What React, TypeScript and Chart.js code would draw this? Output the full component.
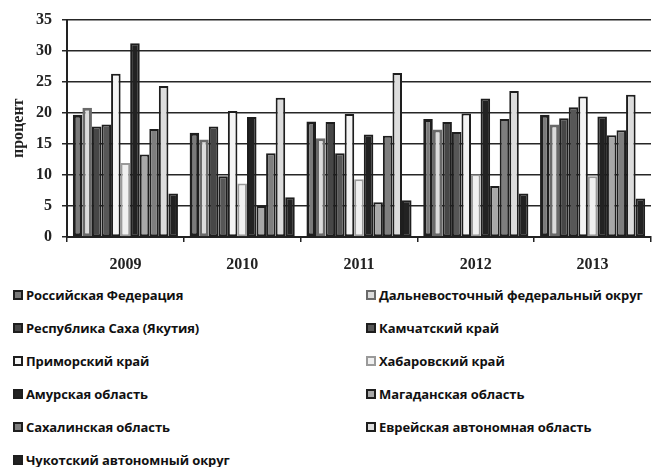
import React, { useEffect, useRef } from "react";
import { Chart, registerables } from "chart.js";

Chart.register(...registerables);

const years = ["2009", "2010", "2011", "2012", "2013"];
const seriesNames = [
  "Российская Федерация",
  "Дальневосточный федеральный округ",
  "Республика Саха (Якутия)",
  "Камчатский край",
  "Приморский край",
  "Хабаровский край",
  "Амурская область",
  "Магаданская область",
  "Сахалинская область",
  "Еврейская автономная область",
  "Чукотский автономный округ",
];
const russia = [19.7, 16.8, 18.6, 19.0, 19.7];
const farEast = [20.8, 15.7, 15.9, 17.3, 18.1];
const sakha = [17.8, 17.8, 18.5, 18.5, 19.1];
const kamchatka = [18.1, 9.8, 13.5, 16.9, 20.9];
const primorsky = [26.3, 20.3, 19.8, 19.9, 22.6];
const khabarovsk = [11.9, 8.6, 9.3, 10.1, 9.8];
const amur = [31.2, 19.3, 16.5, 22.3, 19.4];
const magadan = [13.3, 5.0, 5.6, 8.2, 16.4];
const sakhalin = [17.4, 13.5, 16.3, 19.0, 17.2];
const jewish = [24.3, 22.4, 26.4, 23.5, 22.9];
const chukotka = [7.0, 6.4, 5.9, 7.0, 6.2];
const yTicks = [0, 5, 10, 15, 20, 25, 30, 35];

const allValues = [russia, farEast, sakha, kamchatka, primorsky, khabarovsk, amur, magadan, sakhalin, jewish, chukotka];
const fills = ["#7a7a7a", "#dcdcdc", "#474747", "#575757", "#f4f4f4", "#f0f0f0", "#222222", "#a8a8a8", "#7e7e7e", "#dcdcdc", "#222222"];
const borders = ["#1e1e1e", "#6a6a6a", "#1e1e1e", "#1e1e1e", "#1e1e1e", "#9a9a9a", "#1e1e1e", "#1e1e1e", "#1e1e1e", "#1e1e1e", "#1e1e1e"];
const borderWidths = [3, 3, 2, 2, 2, 2, 2, 2, 2, 2, 2];

export default function App() {
  const ref = useRef<HTMLCanvasElement>(null);
  useEffect(() => {
    if (!ref.current) return;
    const chart = new Chart(ref.current, {
      type: "bar",
      data: {
        labels: years,
        datasets: allValues.map((vals, i) => ({
          label: seriesNames[i],
          data: vals,
          backgroundColor: fills[i],
          borderColor: borders[i],
          borderWidth: borderWidths[i],
          borderSkipped: false,
          categoryPercentage: 0.9,
          barPercentage: 1.0,
        })),
      },
      options: {
        animation: false,
        responsive: false,
        maintainAspectRatio: false,
        layout: { padding: { top: 10, right: 1, left: 0, bottom: 0 } },
        plugins: { legend: { display: false }, tooltip: { enabled: false } },
        scales: {
          x: {
            offset: true,
            grid: {
              offset: true,
              drawOnChartArea: false,
              drawTicks: true,
              tickLength: 5,
              color: "#222",
              lineWidth: 1.5,
            },
            border: { display: true, color: "#222", width: 2 },
            ticks: {
              color: "#222",
              padding: 13,
              font: { family: "'Liberation Serif', 'Times New Roman', serif", size: 16, weight: "bold" },
            },
            afterFit: (s: any) => {
              s.height = 43;
            },
          },
          y: {
            min: 0,
            max: 35,
            afterBuildTicks: (s: any) => {
              s.ticks = yTicks.map((v) => ({ value: v }));
            },
            grid: {
              color: "#262626",
              lineWidth: 1.5,
              drawTicks: true,
              tickLength: 5,
            },
            border: { display: true, color: "#222", width: 2 },
            ticks: {
              color: "#222",
              padding: 10,
              font: { family: "'Liberation Serif', 'Times New Roman', serif", size: 16, weight: "bold" },
            },
            title: {
              display: true,
              text: "процент",
              color: "#222",
              padding: { top: 9, bottom: 0 },
              font: { family: "'Liberation Serif', 'Times New Roman', serif", size: 16, weight: "bold" },
            },
            afterFit: (s: any) => {
              s.width = 67;
            },
          },
        },
      },
    });
    return () => chart.destroy();
  }, []);

  const legendFont = "'Open Sans', 'DejaVu Sans', sans-serif";
  return (
    <div style={{ position: "absolute", left: 0, top: 0, width: 652, height: 467, background: "#fff" }}>
      <canvas ref={ref} width={652} height={280} style={{ position: "absolute", left: 0, top: 0, width: 652, height: 280 }} />
      {seriesNames.map((name, i) => {
        const col = i % 2;
        const row = Math.floor(i / 2);
        const cy = 295 + row * 33;
        const x0 = col === 0 ? 13 : 366;
        return (
          <div
            key={name}
            style={{
              position: "absolute",
              left: x0,
              top: cy - 10,
              height: 20,
              display: "flex",
              alignItems: "center",
              whiteSpace: "nowrap",
              fontFamily: legendFont,
              fontWeight: 700,
              fontSize: 13,
              letterSpacing: -0.1,
              color: "#111",
            }}
          >
            <span
              style={{
                display: "inline-block",
                width: 10,
                height: 10,
                boxSizing: "border-box",
                background: fills[i],
                border: `2px solid ${borders[i]}`,
                marginRight: 3,
              }}
            />
            <span>{name}</span>
          </div>
        );
      })}
    </div>
  );
}
